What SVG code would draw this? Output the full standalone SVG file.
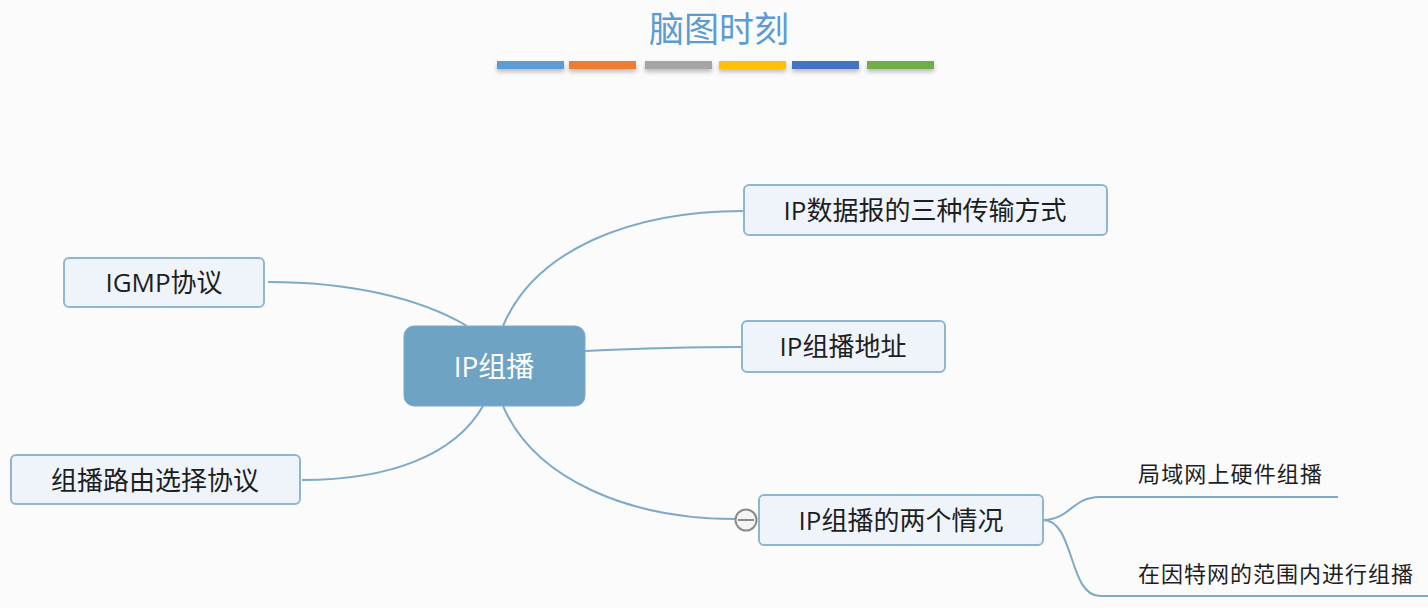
<svg xmlns="http://www.w3.org/2000/svg" width="1428" height="608" viewBox="0 0 1428 608">
<defs>
<style>
.bg{fill:#fbfbfc}
.node rect{fill:#eef4fa;stroke:#8fb5d1;stroke-width:2}
.node text{font-family:"Open Sans","Noto Sans CJK SC",sans-serif;font-size:26px;fill:#1e1e1e;text-anchor:middle;dominant-baseline:central}
.sub text{font-family:"Noto Sans CJK SC",sans-serif;font-size:22px;fill:#1e1e1e;dominant-baseline:central}
.conn path{fill:none;stroke:#7eaac8;stroke-width:2}
.bar{filter:url(#sh)}
</style>
<filter id="sh" x="-10%" y="-50%" width="120%" height="250%">
<feDropShadow dx="0" dy="3" stdDeviation="2" flood-color="#000" flood-opacity="0.25"/>
</filter>
</defs>
<rect class="bg" x="0" y="0" width="1428" height="608"/>
<g id="title">
<text x="719" y="42" font-family="Noto Sans CJK SC,sans-serif" font-size="35" fill="#5b9bd5" text-anchor="middle">脑图时刻</text>
<rect class="bar" x="497" y="61" width="67" height="8" fill="#5b9bd5"/>
<rect class="bar" x="569" y="61" width="67" height="8" fill="#ed7d31"/>
<rect class="bar" x="645" y="61" width="67" height="8" fill="#a5a5a5"/>
<rect class="bar" x="719" y="61" width="67" height="8" fill="#ffc000"/>
<rect class="bar" x="792" y="61" width="67" height="8" fill="#4472c4"/>
<rect class="bar" x="867" y="61" width="67" height="8" fill="#70ad47"/>
</g>
<g id="connectors" class="conn">
<path d="M503,326 C535,250 630,211 744,211"/>
<path d="M585,351 C650,348 700,347 742,347"/>
<path d="M503,406 C535,480 630,519 735,519"/>
<path d="M467,326 C420,298 350,282 268,282"/>
<path d="M483,406 C455,455 390,480 302,480"/>
<path d="M1043,520 C1070,520 1072,497 1100,497 L1338,497"/>
<path d="M1043,520 C1075,520 1068,596 1100,596 L1428,596"/>
</g>
<g id="n-root">
<rect x="404" y="326" width="181" height="80" rx="10" fill="#6ea3c3" stroke="#7aacca" stroke-width="1"/>
<text x="494" y="366" font-family="Open Sans,Noto Sans CJK SC,sans-serif" font-size="28" fill="#ffffff" text-anchor="middle" dominant-baseline="central">IP组播</text>
</g>
<g id="n-modes" class="node">
<rect x="744" y="185" width="363" height="50" rx="5"/>
<text x="925" y="210">IP数据报的三种传输方式</text>
</g>
<g id="n-addr" class="node">
<rect x="742" y="321" width="203" height="51" rx="5"/>
<text x="843" y="346">IP组播地址</text>
</g>
<g id="n-cases" class="node">
<rect x="759" y="495" width="284" height="50" rx="5"/>
<text x="901" y="520">IP组播的两个情况</text>
</g>
<g id="n-collapse">
<circle cx="746" cy="520" r="10.5" fill="#f4f4f4" stroke="#8a8a8a" stroke-width="2"/>
<line x1="738" y1="520" x2="754" y2="520" stroke="#8a8a8a" stroke-width="2"/>
</g>
<g id="n-igmp" class="node">
<rect x="64" y="258" width="200" height="49" rx="5"/>
<text x="164" y="282">IGMP协议</text>
</g>
<g id="n-routing" class="node">
<rect x="11" y="455" width="289" height="49" rx="5"/>
<text x="155" y="480">组播路由选择协议</text>
</g>
<g id="n-lan" class="sub">
<text x="1138" y="472" textLength="184" lengthAdjust="spacing">局域网上硬件组播</text>
</g>
<g id="n-internet" class="sub">
<text x="1138" y="572" textLength="275" lengthAdjust="spacing">在因特网的范围内进行组播</text>
</g>
</svg>
